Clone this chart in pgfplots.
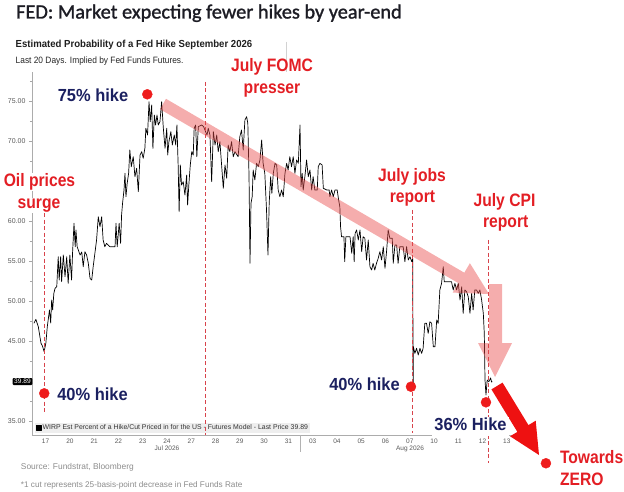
\documentclass[border=0pt]{standalone}
\usepackage{pgfplots}
\pgfplotsset{compat=1.18}
\usepackage{fontspec}
\setmainfont{Liberation Sans}
\newfontfamily\titlefont{Carlito}[FakeBold=1.3]
\newfontfamily\condfont{Liberation Sans}[FakeStretch=0.87]
\newfontfamily\navyfont{Liberation Sans}[FakeStretch=0.94]
\newfontfamily\subfont{Liberation Sans}[FakeStretch=0.94]
\newfontfamily\subregfont{Liberation Sans}[FakeStretch=0.91]
\definecolor{titlecol}{HTML}{1C1C24}
\definecolor{redtext}{HTML}{E31E24}
\definecolor{navy}{HTML}{1B2060}
\definecolor{dotred}{HTML}{EE1C1C}
\definecolor{dashred}{HTML}{D8434B}
\definecolor{pinkarrow}{HTML}{E84A4A}
\definecolor{arrowred}{HTML}{EE1111}
\definecolor{srcgray}{HTML}{8C8C8C}
\begin{document}
\begin{tikzpicture}[x=1pt,y=-1pt]
\path[use as bounding box] (0,0) rectangle (624,492);
\begin{axis}[
  at={(32pt,-435pt)}, anchor=south west,
  scale only axis, width=487pt, height=363pt,
  xmin=-0.06, xmax=20.0, ymin=33.2125, ymax=78.5875,
  clip=false,
  axis lines=left,
  axis line style={-, draw=gray!65},
  xtick={0.5,1.5,...,19.5},
  xticklabels={17,20,21,22,23,24,27,28,29,30,31,03,04,05,06,07,10,11,12,13},
  xtick style={draw=none},
  ytick={35,40,...,75},
  yticklabels={35.00,,45.00,50.00,55.00,60.00,,70.00,75.00},
  minor ytick={37.5,42.5,...,77.5},
  ytick style={draw=gray!70},
  minor tick style={draw=gray!60},
  tick align=outside,
  major tick length=3pt, minor tick length=2pt,
  yticklabel style={font=\fontsize{7}{8}\selectfont, text=black!65},
  xticklabel style={font=\fontsize{6.5}{7}\selectfont, text=black!65, inner sep=1pt, yshift=0.5pt},
  legend style={at={(0.006,0.006)}, anchor=south west, fill=gray!13, draw=none,
    font=\fontsize{6.9}{8}\selectfont, inner sep=0.6pt, nodes={inner sep=1.2pt}, text=black!80},
  legend cell align=left,
]
\addplot[black, line width=0.7pt, line join=round,
  legend image code/.code={\fill[black] (0pt,-2.5pt) rectangle (5pt,2.5pt);}]
  table {
t v
0.02 47.18
0.10 47.67
0.20 46.75
0.31 44.68
0.37 44.34
0.44 43.63
0.51 44.68
0.57 46.75
0.66 48.84
0.71 47.21
0.75 50.09
0.79 48.84
0.84 50.92
0.89 51.55
0.96 51.75
1.02 55.50
1.06 52.59
1.12 55.50
1.16 52.38
1.23 55.71
1.30 53.00
1.37 55.50
1.43 52.17
1.50 55.71
1.57 52.59
1.61 55.92
1.67 59.67
1.72 56.75
1.75 58.84
1.80 56.75
1.92 55.71
1.99 56.09
2.05 54.25
2.12 56.13
2.19 55.71
2.26 54.67
2.33 52.80
2.40 52.59
2.46 54.25
2.53 55.92
2.60 57.59
2.67 60.50
2.74 59.25
2.81 60.50
2.87 57.59
2.94 56.75
3.01 57.17
3.15 56.75
3.36 56.75
3.40 59.67
3.45 56.75
3.53 59.67
3.59 57.17
3.63 60.71
3.67 62.17
3.73 63.84
3.77 65.92
3.81 63.00
3.86 64.67
3.92 65.92
3.97 68.84
4.03 66.75
4.11 68.00
4.18 65.50
4.25 66.55
4.32 63.63
4.39 68.21
4.46 68.63
4.52 67.80
4.59 69.05
4.63 71.55
4.70 70.71
4.76 74.88
4.81 72.38
4.87 74.46
4.92 69.05
4.98 73.21
5.03 71.96
5.09 73.21
5.14 71.96
5.21 72.38
5.28 74.88
5.35 71.55
5.42 69.05
5.49 71.55
5.53 68.21
5.58 69.88
5.66 71.13
5.72 69.46
5.80 70.71
5.86 69.46
5.91 71.96
5.96 66.96
6.00 61.13
6.05 66.96
6.10 64.46
6.17 64.88
6.24 63.21
6.31 65.71
6.35 61.96
6.40 64.46
6.46 66.96
6.52 68.63
6.58 68.21
6.62 71.55
6.68 71.96
6.73 68.00
6.79 71.75
6.93 71.96
7.01 71.75
7.09 71.13
7.15 70.71
7.20 71.55
7.27 70.71
7.34 64.88
7.41 71.13
7.48 69.46
7.55 70.71
7.61 68.63
7.68 69.88
7.75 66.96
7.82 64.05
7.89 66.96
7.96 65.30
8.02 69.46
8.09 68.63
8.16 69.88
8.23 68.00
8.30 68.63
8.43 68.00
8.50 70.50
8.57 71.34
8.64 68.84
8.71 72.59
8.78 73.00
8.83 72.17
8.88 65.50
8.92 54.67
8.96 62.17
9.01 63.00
9.05 66.34
9.12 65.09
9.19 67.17
9.26 66.75
9.33 67.59
9.40 70.09
9.46 67.17
9.53 65.92
9.60 61.34
9.66 55.71
9.71 62.17
9.77 65.50
9.82 63.42
9.88 65.92
9.95 67.17
10.02 66.96
10.08 63.84
10.15 63.00
10.22 63.84
10.29 63.00
10.36 65.92
10.43 67.17
10.49 66.34
10.56 68.00
10.63 66.75
10.70 68.00
10.77 65.92
10.84 67.59
10.91 67.17
10.98 71.96
11.02 64.25
11.07 65.92
11.11 63.84
11.18 65.50
11.25 67.59
11.32 65.50
11.39 66.34
11.46 63.84
11.52 65.50
11.59 63.84
11.69 63.84
11.73 66.75
11.80 67.17
11.89 66.96
11.94 64.05
12.08 63.84
12.18 63.84
12.21 63.00
12.28 63.84
12.35 63.00
12.42 63.84
12.51 63.84
12.57 62.59
12.62 61.75
12.65 59.25
12.69 58.00
12.79 58.00
12.82 54.88
12.87 58.00
13.04 58.00
13.11 55.92
13.17 58.00
13.21 54.88
13.25 58.42
13.31 58.84
13.38 57.59
13.45 58.84
13.52 56.13
13.58 58.00
13.65 57.80
13.72 55.09
13.79 57.59
13.86 54.25
13.93 53.84
13.99 54.67
14.06 53.84
14.13 54.67
14.20 55.30
14.27 56.13
14.34 55.09
14.41 56.75
14.48 54.05
14.55 56.34
14.61 58.84
14.68 57.80
14.78 57.80
14.82 54.67
14.89 56.96
14.96 56.96
15.02 54.67
15.09 56.75
15.23 56.75
15.30 54.88
15.37 56.75
15.44 55.09
15.51 55.50
15.58 54.88
15.62 55.30
15.64 39.68
15.65 44.25
15.71 43.42
15.78 44.05
15.85 43.21
15.92 44.05
15.99 43.42
16.05 44.05
16.12 47.17
16.19 47.17
16.26 45.92
16.33 47.38
16.40 47.17
16.47 44.25
16.54 44.25
16.61 47.59
16.67 47.17
16.74 51.34
16.81 52.17
16.88 54.25
16.92 52.38
17.08 52.38
17.22 52.38
17.29 51.34
17.36 52.17
17.43 51.34
17.50 52.17
17.57 50.09
17.64 51.75
17.70 48.42
17.77 51.34
17.84 51.13
17.91 50.50
17.98 48.42
18.05 50.92
18.11 48.84
18.18 51.34
18.25 51.34
18.32 50.92
18.39 51.34
18.46 50.09
18.53 48.42
18.57 45.92
18.60 40.09
18.64 38.21
18.69 40.09
18.76 39.88
18.83 40.34
18.87 39.84
18.90 39.89
};
\addlegendentry{WIRP Est Percent of a Hike/Cut Priced in for the US - Futures Model - Last Price 39.89}
% event lines
\addplot[forget plot, dashred, line width=0.8pt, dash pattern=on 4pt off 2.5pt] coordinates {(0.445,60.96) (0.445,36.09)};
\addplot[forget plot, dashred, line width=0.8pt, dash pattern=on 4pt off 2.5pt] coordinates {(7.09,77.34) (7.09,33.21)};
\addplot[forget plot, dashred, line width=0.8pt, dash pattern=on 4pt off 2.5pt] coordinates {(15.60,61.34) (15.60,33.46)};
\addplot[forget plot, dashred, line width=0.8pt, dash pattern=on 4pt off 2.5pt] coordinates {(18.73,57.59) (18.73,29.75)};
% marked levels
\addplot[forget plot, only marks, mark=*, mark size=5pt, dotred, mark options={draw=none, fill=dotred}] coordinates {
(4.69,75.80) (0.445,38.42) (15.55,39.25) (18.64,37.30) (21.11,29.68)};
\end{axis}
% header separator and month separator
\draw[gray!35, line width=0.6pt] (286,41.7)--(286,71.7);
\draw[gray!60, line width=0.5pt] (300.6,435)--(300.6,452);
\node[font=\fontsize{6.5}{7}\selectfont, text=black!65, inner sep=0.5pt] at (167,448.5) {Jul 2026};
\node[font=\fontsize{6.5}{7}\selectfont, text=black!65, inner sep=0.5pt] at (410,448.5) {Aug 2026};
% FOMC line crossing the legend box
\draw[dashred, line width=0.8pt, dash pattern=on 4pt off 2.5pt] (205.7,420)--(205.7,435);
% last price tag
\node[fill=black, text=white, rounded corners=1pt, inner xsep=1.6pt, inner ysep=1.2pt, font=\fontsize{6.6}{7}\selectfont] at (22.5,381.6) {39.89};
% pink trend arrows
\fill[pinkarrow, fill opacity=0.45] (159.98,109.18) -- (458.3,283.1) -- (452.7,292.6) -- (489,294) -- (469.9,263.2) -- (464.3,272.7) -- (166.0,98.8) -- cycle;
\fill[pinkarrow, fill opacity=0.45] (489,284) -- (489,343) -- (478,343) -- (495,377) -- (512,343) -- (502,343) -- (502,284) -- cycle;
% red arrow
\fill[arrowred] (491.45,389.38) -- (517.35,431.88) -- (510.1,436.3) -- (539,455) -- (535.7,420.7) -- (528.45,425.12) -- (502.55,382.62) -- cycle;
% titles
\node[anchor=base west, inner sep=0, text=titlecol, font=\titlefont\fontsize{20.3}{24}\selectfont] at (16,18.5) {FED: Market expecting fewer hikes by year-end};
\node[anchor=base west, inner sep=0, text=black!88, font=\subfont\bfseries\fontsize{10.2}{12}\selectfont] at (15.5,47.3) {Estimated Probability of a Fed Hike September 2026};
\node[anchor=base west, inner sep=0, text=black!85, font=\subregfont\fontsize{9.2}{11}\selectfont] at (15.5,63.3) {Last 20 Days. Implied by Fed Funds Futures.};
% red event labels
\tikzset{redlab/.style={anchor=base, text=redtext, inner sep=0.8pt, font=\condfont\bfseries\fontsize{18}{20}\selectfont}}
\tikzset{navylab/.style={anchor=base, text=navy, inner sep=0.8pt, font=\navyfont\bfseries\fontsize{17.5}{20}\selectfont}}
\node[redlab, fill=white] at (39.5,186.7) {Oil prices};
\node[redlab, fill=white] at (39,208.3) {surge};
\node[redlab] at (272,71.7) {July FOMC};
\node[redlab] at (272,93.3) {presser};
\node[redlab] at (412,181.7) {July jobs};
\node[redlab] at (412.5,202) {report};
\node[redlab] at (504.5,206.7) {July CPI};
\node[redlab] at (505.7,227.3) {report};
\node[redlab, anchor=base west] at (559,463.3) {Towards};
\node[redlab, anchor=base west] at (559,485) {ZERO};
% navy level labels
\node[navylab] at (93,101.7) {75\% hike};
\node[navylab] at (92.5,400) {40\% hike};
\node[navylab] at (364.5,390.7) {40\% hike};
\node[navylab, fill=white, text depth=4.5pt, inner xsep=2pt] at (470.5,430.7) {36\% Hike};
% source
\node[anchor=base west, inner sep=0, text=srcgray, font=\fontsize{8.4}{10}\selectfont] at (20.7,469.5) {Source: Fundstrat, Bloomberg};
\node[anchor=base west, inner sep=0, text=srcgray, font=\fontsize{8.2}{10}\selectfont] at (20.7,487) {*1 cut represents 25-basis-point decrease in Fed Funds Rate};
\end{tikzpicture}
\end{document}
